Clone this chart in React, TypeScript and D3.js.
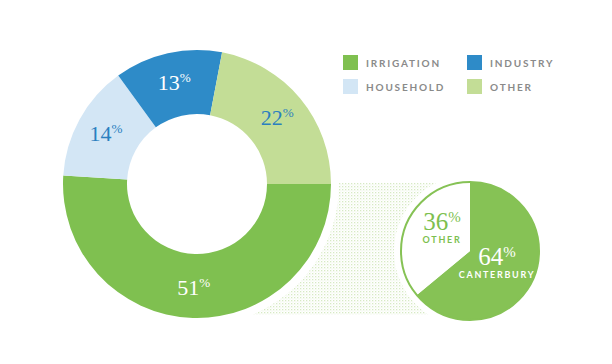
import { arc, pie, PieArcDatum } from 'd3'

const categories = ['IRRIGATION', 'HOUSEHOLD', 'INDUSTRY', 'OTHER']
const shares = [51, 14, 13, 22]
const sliceColors = ['#7fc050', '#d3e6f5', '#2e8bc8', '#c3dd96']
const labelColors = ['#ffffff', '#2a7fbf', '#ffffff', '#2a7fbf']

const legendOrder = ['IRRIGATION', 'INDUSTRY', 'HOUSEHOLD', 'OTHER']

const regions = ['CANTERBURY', 'OTHER']
const regionShares = [64, 36]
const regionColors = ['#86c255', '#ffffff']
const regionLabelColors = ['#ffffff', '#7dbf4f']

interface Slice {
  name: string
  value: number
  color: string
  label: string
}

const mainData: Slice[] = categories.map((c, i) => ({ name: c, value: shares[i], color: sliceColors[i], label: labelColors[i] }))
const subData: Slice[] = regions.map((c, i) => ({ name: c, value: regionShares[i], color: regionColors[i], label: regionLabelColors[i] }))

const W = 612
const H = 364

const Pct = ({ x, y, v, color, size }: { x: number; y: number; v: number; color: string; size: number }) => (
  <text x={x} y={y} textAnchor="middle" fill={color} fontFamily="'Liberation Serif', serif" fontSize={size}>
    {v}
    <tspan fontSize={size * 0.6} dy={-size * 0.34}>%</tspan>
  </text>
)

const App = () => {
  const cx = 197
  const cy = 184
  const outerR = 134
  const innerR = 70

  const sx = 470
  const sy = 251
  const sr = 69

  const mainPie = pie<Slice>().sort(null).value(d => d.value)
    .startAngle(Math.PI / 2).endAngle(Math.PI / 2 + 2 * Math.PI)
  const mainArcs = mainPie(mainData)
  const mainArc = arc<PieArcDatum<Slice>>().innerRadius(innerR).outerRadius(outerR)
  const labelArc = arc<PieArcDatum<Slice>>().innerRadius(innerR + 2).outerRadius(outerR + 2)

  const subPie = pie<Slice>().sort(null).value(d => d.value)
  const subArcs = subPie(subData)
  const subArc = arc<PieArcDatum<Slice>>().innerRadius(0).outerRadius(sr)

  const subLabelPos = [
    { dx: 27, dy: 14 },
    { dx: -28, dy: -21 },
  ]

  return (
    <svg width={W} height={H} style={{ position: 'absolute', left: 0, top: 0 }}>
      <defs>
        <pattern id="dots" width="3" height="3" patternUnits="userSpaceOnUse">
          <rect x="0" y="0" width="1.3" height="1.3" fill="#d6e9c3" />
          <rect x="1.5" y="1.5" width="1" height="1" fill="#e8f3dd" />
        </pattern>
      </defs>
      <rect width={W} height={H} fill="#ffffff" />

      {/* connector texture */}
      <rect x={cx} y={cy - 1} width={sx - cx} height={sy + 65 - cy} fill="url(#dots)" />
      <circle cx={cx} cy={cy} r={outerR + 8} fill="#ffffff" />
      <circle cx={sx} cy={sy} r={sr + 7} fill="#ffffff" />

      <g transform={`translate(${cx},${cy})`}>
        {mainArcs.map(a => (
          <path key={a.data.name} d={mainArc(a) || ''} fill={a.data.color} />
        ))}
        {mainArcs.map(a => {
          const [x, y] = labelArc.centroid(a)
          return <Pct key={a.data.name} x={x} y={y + 7} v={a.data.value} color={a.data.label} size={22} />
        })}
      </g>

      <g transform={`translate(${sx},${sy})`}>
        {subArcs.map(a => (
          <path key={a.data.name} d={subArc(a) || ''} fill={a.data.color} />
        ))}
        <circle r={sr} fill="none" stroke="#86c255" strokeWidth={2} />
        {subArcs.map((a, i) => (
          <g key={a.data.name}>
            <Pct x={subLabelPos[i].dx} y={subLabelPos[i].dy} v={a.data.value} color={a.data.label} size={25} />
            <text x={subLabelPos[i].dx} y={subLabelPos[i].dy + 13} textAnchor="middle" fill={a.data.label}
              fontFamily="Lato, sans-serif" fontWeight={700} fontSize={9} letterSpacing={1.7}>
              {a.data.name}
            </text>
          </g>
        ))}
      </g>

      <g>
        {legendOrder.map((name, i) => {
          const col = i % 2
          const row = Math.floor(i / 2)
          const x = 343 + col * 124
          const y = 55 + row * 24
          const color = sliceColors[categories.indexOf(name)]
          return (
            <g key={name} transform={`translate(${x},${y})`}>
              <rect width={15} height={15} fill={color} />
              <text x={23} y={11.5} fill="#8a8a8a" fontFamily="Lato, sans-serif" fontWeight={700} fontSize={10} letterSpacing={1.8}>
                {name}
              </text>
            </g>
          )
        })}
      </g>
    </svg>
  )
}

export default App
